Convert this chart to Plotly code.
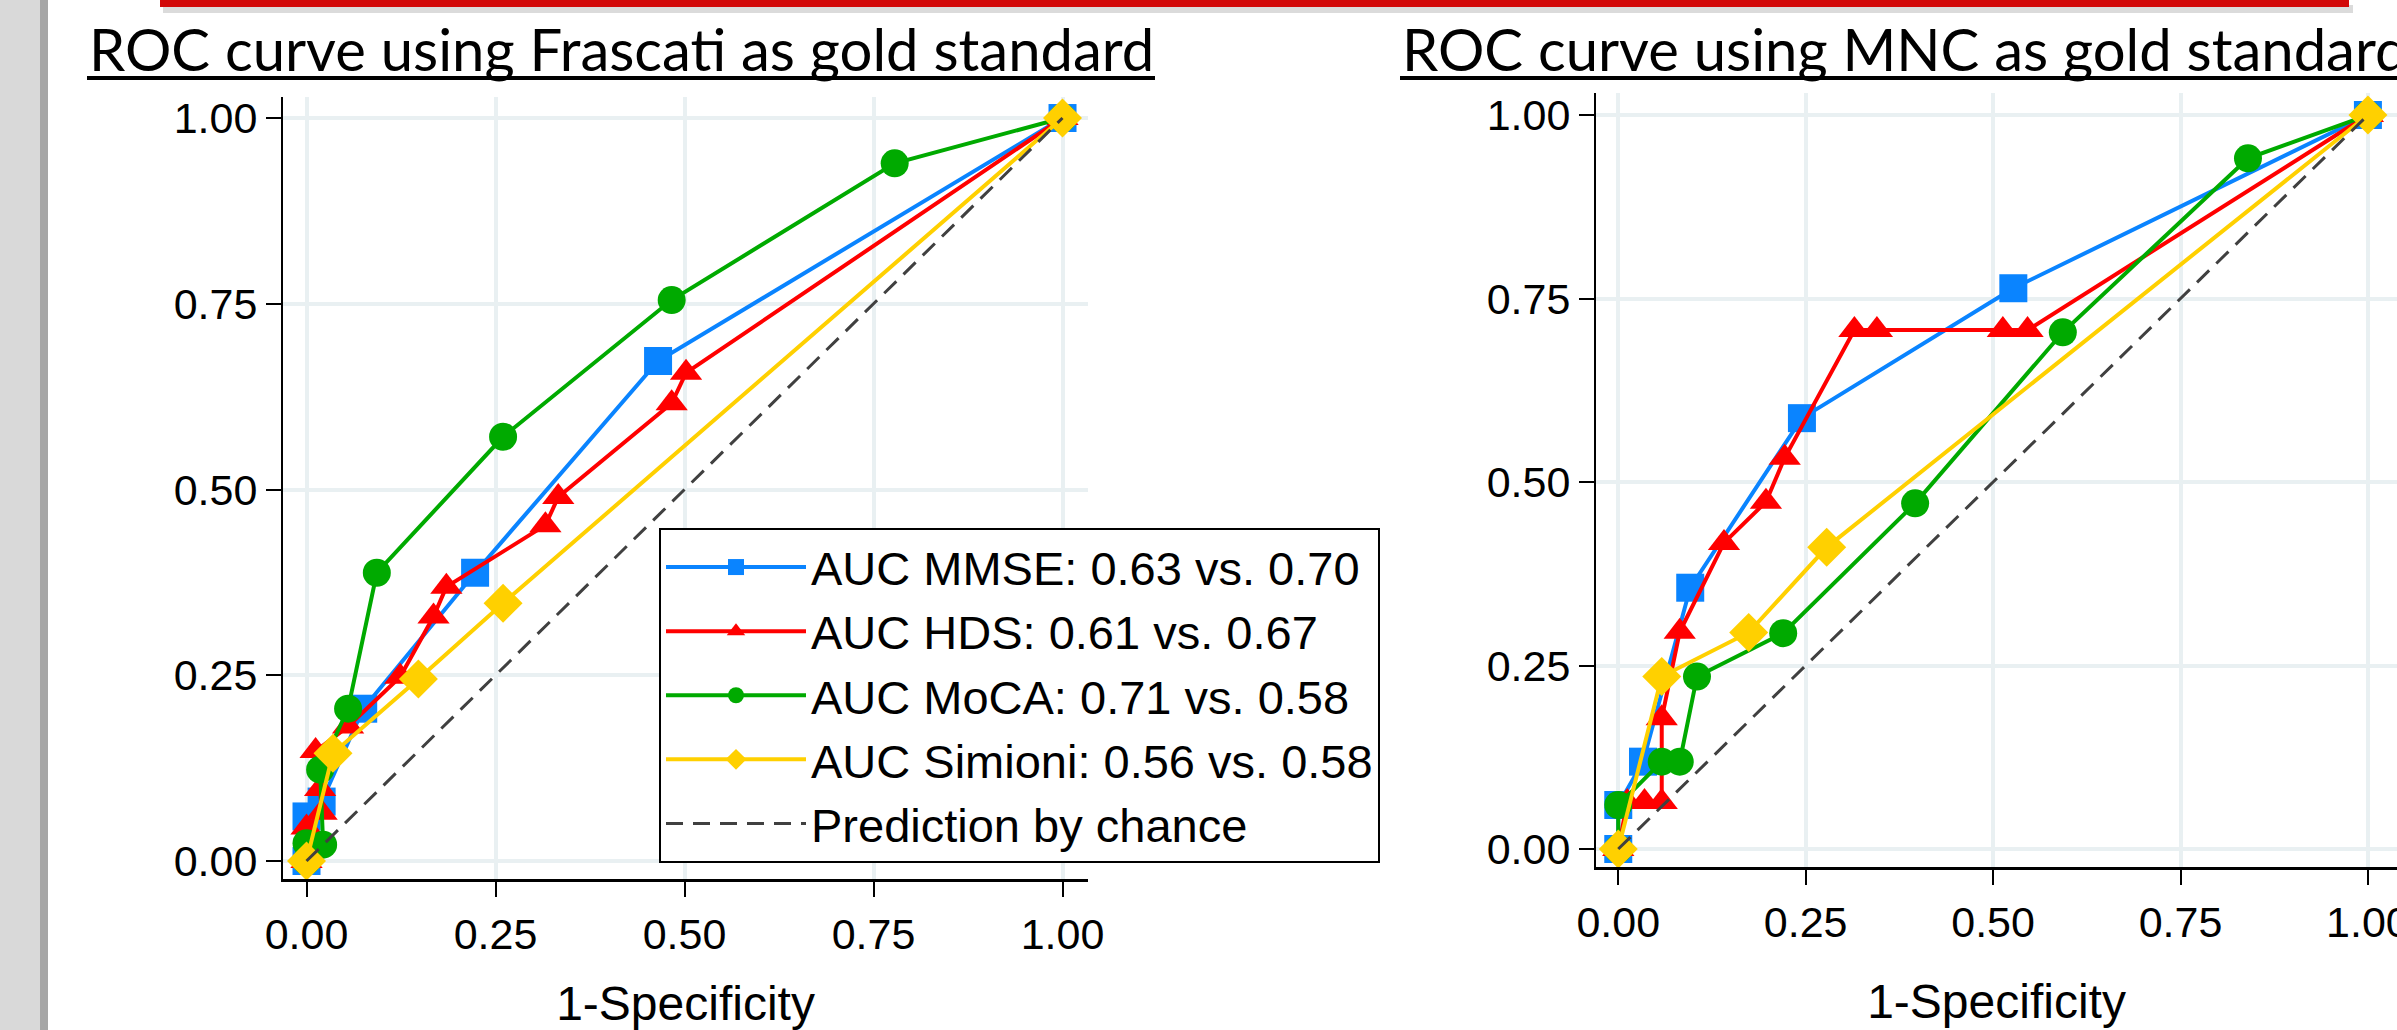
import plotly.graph_objects as go

W, H = 2397, 1030

# ---------------- data ----------------
panel_titles = ["ROC curve using Frascati as gold standard", "ROC curve using MNC as gold standard"]
x_title = "1-Specificity"
tick_vals = [0, 0.25, 0.5, 0.75, 1.0]
tick_text = ["0.00", "0.25", "0.50", "0.75", "1.00"]

series_names = ["AUC MMSE: 0.63 vs. 0.70", "AUC HDS: 0.61 vs. 0.67",
                "AUC MoCA: 0.71 vs. 0.58", "AUC Simioni: 0.56 vs. 0.58"]
chance_name = "Prediction by chance"

# Frascati as gold standard (left)
mmse_f_x = [0, 0, 0.02, 0.075, 0.223, 0.465, 1]
mmse_f_y = [0, 0.06, 0.08, 0.205, 0.388, 0.673, 1]
hds_f_x = [0, 0, 0.02, 0.018, 0.012, 0.055, 0.124, 0.168, 0.185, 0.316, 0.333, 0.483, 0.502, 1]
hds_f_y = [0, 0.045, 0.065, 0.097, 0.148, 0.181, 0.248, 0.329, 0.369, 0.452, 0.490, 0.616, 0.657, 1]
moca_f_x = [0, 0, 0.022, 0.018, 0.055, 0.093, 0.26, 0.483, 0.778, 1]
moca_f_y = [0, 0.024, 0.022, 0.123, 0.205, 0.388, 0.571, 0.755, 0.939, 1]
simioni_f_x = [0, 0.035, 0.148, 0.26, 1]
simioni_f_y = [0, 0.145, 0.245, 0.347, 1]

# MNC as gold standard (right)
mmse_m_x = [0, 0, 0.033, 0.096, 0.245, 0.527, 1]
mmse_m_y = [0, 0.06, 0.119, 0.356, 0.587, 0.764, 1]
hds_m_x = [0, 0.012, 0.035, 0.058, 0.058, 0.082, 0.141, 0.197, 0.222, 0.315, 0.345, 0.513, 0.546, 1]
hds_m_y = [0, 0.064, 0.064, 0.064, 0.178, 0.296, 0.417, 0.473, 0.533, 0.707, 0.707, 0.707, 0.707, 1]
moca_m_x = [0, 0, 0.058, 0.082, 0.105, 0.22, 0.396, 0.593, 0.84, 1]
moca_m_y = [0, 0.06, 0.119, 0.119, 0.235, 0.294, 0.471, 0.704, 0.941, 1]
simioni_m_x = [0, 0.058, 0.174, 0.278, 1]
simioni_m_y = [0, 0.235, 0.295, 0.411, 1]

chance_x = [0, 1]
chance_y = [0, 1]

# ---------------- styles ----------------
colors = ["#0a84ff", "#ff0000", "#00aa00", "#ffd000"]
symbols = ["square", "triangle-up", "circle", "diamond"]
msizes = [28, 28, 28, 30]
AXFONT = "Liberation Sans, Arial, sans-serif"
TITLEFONT = "Lato, Carlito, Calibri, sans-serif"

fig = go.Figure()

panels = [
    ([(mmse_f_x, mmse_f_y), (hds_f_x, hds_f_y), (moca_f_x, moca_f_y), (simioni_f_x, simioni_f_y)], "x", "y", True),
    ([(mmse_m_x, mmse_m_y), (hds_m_x, hds_m_y), (moca_m_x, moca_m_y), (simioni_m_x, simioni_m_y)], "x2", "y2", False),
]

for series, xa, ya, show in panels:
    for i, (xs, ys) in enumerate(series):
        fig.add_trace(go.Scatter(
            x=xs, y=ys, mode="lines+markers", name=series_names[i],
            line=dict(color=colors[i], width=4),
            marker=dict(symbol=symbols[i], size=msizes[i], color=colors[i], line=dict(width=0)),
            xaxis=xa, yaxis=ya, showlegend=show,
        ))
    fig.add_trace(go.Scatter(
        x=chance_x, y=chance_y, mode="lines", name=chance_name,
        line=dict(color="#404040", width=3, dash="17px,10px"),
        xaxis=xa, yaxis=ya, showlegend=show,
    ))

def px_x(p):
    return p / W

def px_y(p):
    return 1 - p / H

axis_common = dict(
    tickvals=tick_vals, ticktext=tick_text,
    showgrid=True, gridcolor="#e9f0f2", gridwidth=4,
    zeroline=False, showline=True, linecolor="black",
    ticks="outside", ticklen=15, tickwidth=2, tickcolor="black",
    tickfont=dict(family=AXFONT, size=43, color="black"),
    automargin=False, ticklabeloverflow="allow",
)

xtitle = dict(text=x_title, font=dict(family=AXFONT, size=48, color="black"), standoff=40)

fig.update_layout(
    width=W, height=H,
    margin=dict(l=0, r=0, t=0, b=0, pad=0, autoexpand=False),
    paper_bgcolor="white", plot_bgcolor="white",
    xaxis=dict(domain=[px_x(283), px_x(1088)], range=[-0.0311, 1.0337], anchor="y",
               linewidth=3, title=xtitle, **axis_common),
    yaxis=dict(domain=[px_y(879), px_y(97)], range=[-0.0242, 1.0283], anchor="x",
               linewidth=2, **axis_common),
    xaxis2=dict(domain=[px_x(1596), 1.0], range=[-0.0297, 1.0388], anchor="y2",
                linewidth=3, title=xtitle, **axis_common),
    yaxis2=dict(domain=[px_y(867), px_y(93)], range=[-0.0245, 1.030], anchor="x2",
                linewidth=2, **axis_common),
    legend=dict(
        x=px_x(659), y=px_y(528), xanchor="left", yanchor="top",
        bgcolor="white", bordercolor="black", borderwidth=2,
        font=dict(family=AXFONT, size=47, color="black"),
        itemwidth=140, tracegroupgap=0,
    ),
    showlegend=True,
)

# panel titles
for k, xpix in enumerate([87, 1400]):
    fig.add_annotation(text=panel_titles[k], xref="paper", yref="paper",
                       x=px_x(xpix), y=px_y(48), xanchor="left", yanchor="middle", showarrow=False,
                       font=dict(family=TITLEFONT, size=58, color="black"))

# underlines, side band, red bar
shapes = [
    dict(type="line", xref="paper", yref="paper", x0=px_x(87), x1=px_x(1155), y0=px_y(78), y1=px_y(78),
         line=dict(color="black", width=4)),
    dict(type="line", xref="paper", yref="paper", x0=px_x(1400), x1=1.0, y0=px_y(78), y1=px_y(78),
         line=dict(color="black", width=4)),
    dict(type="rect", xref="paper", yref="paper", x0=0, x1=px_x(40), y0=0, y1=1,
         fillcolor="#d9d9d9", line=dict(width=0), layer="below"),
    dict(type="rect", xref="paper", yref="paper", x0=px_x(40), x1=px_x(48), y0=0, y1=1,
         fillcolor="#a6a6a6", line=dict(width=0), layer="below"),
    dict(type="rect", xref="paper", yref="paper", x0=px_x(163), x1=px_x(2353), y0=px_y(13), y1=px_y(5),
         fillcolor="rgba(0,0,0,0.14)", line=dict(width=0)),
    dict(type="rect", xref="paper", yref="paper", x0=px_x(160), x1=px_x(2349), y0=px_y(7), y1=1.0,
         fillcolor="#d20808", line=dict(width=0)),
]
fig.update_layout(shapes=shapes)

fig.write_html("out.html",
               config={"displayModeBar": False},
               post_script="document.body.style.margin='0';document.body.style.overflow='hidden';")
